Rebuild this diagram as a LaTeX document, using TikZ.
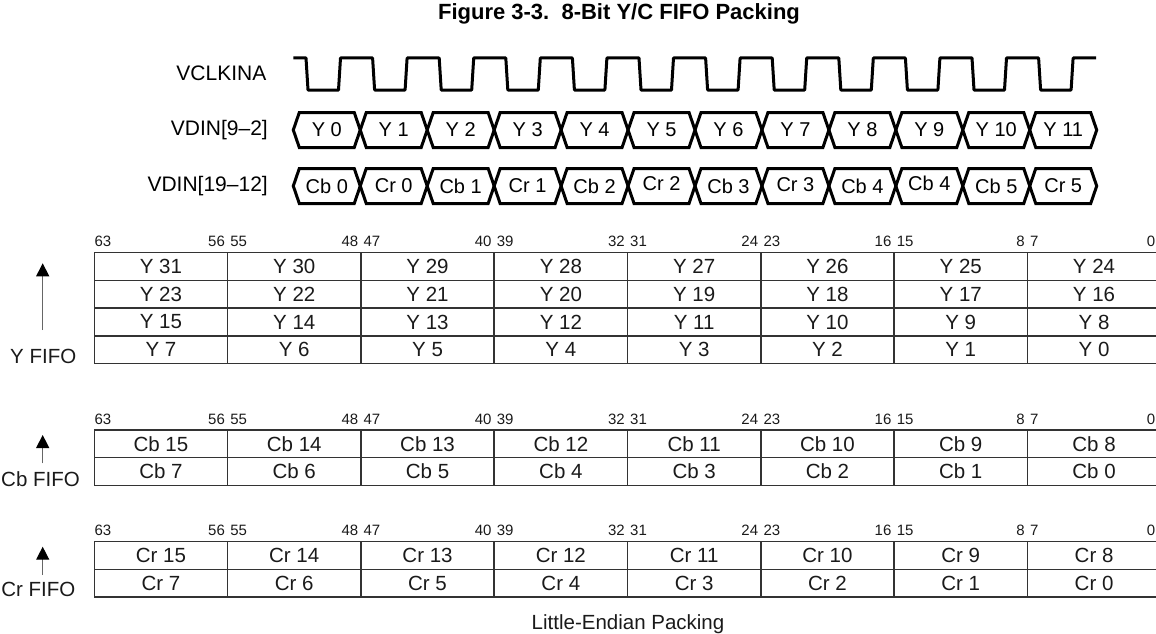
\documentclass[tikz,border=0pt]{standalone}
\usepackage{fontspec}
\setmainfont{Liberation Sans}
\usetikzlibrary{arrows.meta}
\definecolor{rule}{HTML}{333333}
\definecolor{ink}{HTML}{1A1A1A}
\def\busw{66.95}
\def\clkw{66.6}
\def\colw{133.3}
\def\roww{27.7}
\tikzset{
	wave/.style={line width=3pt, line join=round},
	buscell/.style={line width=3pt, line join=miter},
	bustext/.style={font=\fontsize{20}{24}\selectfont, inner sep=0pt},
	sig/.style={font=\fontsize{21}{25}\selectfont, anchor=east, inner sep=0pt},
	cell/.style={draw=rule, line width=1.5pt, minimum width=\colw pt, minimum height=\roww pt, inner sep=0pt, font=\fontsize{20.5}{24}\selectfont, text=ink},
	bitno/.style={font=\fontsize{15}{18}\selectfont, inner sep=0pt, text=ink},
	fifo/.style={font=\fontsize{20.5}{24}\selectfont, anchor=east, inner sep=0pt, text=ink},
	fifoarrow/.style={draw=black!60, line width=1.3pt, -{Triangle[width=13pt,length=13pt,color=black]}}
}

\begin{document}
\begin{tikzpicture}[x=1pt, y=-1pt]
				\useasboundingbox (0,0) rectangle (1156,634);
				
				\node[font=\bfseries\fontsize{22}{26}\selectfont, anchor=base] (title) at (619,19.5) {Figure 3-3.\ \ 8-Bit Y/C FIFO Packing};
				
				\node[sig] (clk) at (266.5,73.3) {VCLKINA};
				\node[sig] (vdlo) at (268,130) {VDIN[9\textendash 2]};
				\node[sig] (vdhi) at (268,186) {VDIN[19\textendash 12]};
				
				\draw[wave] (293.3,58) \foreach \k in {0,...,11} { -- ({306+\clkw*\k},58) -- ({308+\clkw*\k},90) -- ({338.5+\clkw*\k},90) -- ({340.5+\clkw*\k},58) } -- (1096,58);
				
				\foreach \lbl [count=\k from 0] in {Y 0,Y 1,Y 2,Y 3,Y 4,Y 5,Y 6,Y 7,Y 8,Y 9,Y 10,Y 11} {
					\pgfmathsetmacro\xa{293.3+\busw*\k}
					\pgfmathsetmacro\xb{\xa+\busw}
					\draw[buscell] (\xa,130) -- ({\xa+6},112.5) -- ({\xb-6},112.5) -- (\xb,130) -- ({\xb-6},147.5) -- ({\xa+6},147.5) -- cycle;
					\node[bustext] (yb\k) at ({\xa+\busw/2},130) {\lbl};
				}
				
				\foreach \lbl/\dy [count=\k from 0] in {Cb 0/0,Cr 0/0,Cb 1/0,Cr 1/0,Cb 2/0,Cr 2/-2,Cb 3/0,Cr 3/-1,Cb 4/0,Cb 4/-3,Cb 5/0,Cr 5/0} {
					\pgfmathsetmacro\xa{293.3+\busw*\k}
					\pgfmathsetmacro\xb{\xa+\busw}
					\draw[buscell] (\xa,186) -- ({\xa+6},168.5) -- ({\xb-6},168.5) -- (\xb,186) -- ({\xb-6},203.5) -- ({\xa+6},203.5) -- cycle;
					\node[bustext] (cb\k) at ({\xa+\busw/2},{186+\dy}) {\lbl};
				}
				
				\foreach \tab/\ty/\rows/\pre in {y/252.7/4/Y, cb/430/2/Cb, cr/541.7/2/Cr} {
					\foreach \rr in {1,...,\rows} {
						\foreach \cc in {0,...,7} {
							\pgfmathtruncatemacro\v{8*(\rows-\rr)+7-\cc}
							\node[cell] (\tab-\rr-\cc) at ({94.3+\colw*(\cc+0.5)},{\ty+\roww*(\rr-0.5)}) {\pre\ \v};
						}
					}
				}
				
				\foreach \tab/\hy in {y/241.7, cb/419, cr/530} {
					\node[bitno, anchor=west] (\tab-h63) at (94.3,\hy) {63};
					\foreach \i in {1,...,7} {
						\pgfmathtruncatemacro\hi{64-8*\i}
						\pgfmathtruncatemacro\lo{63-8*\i}
						\node[bitno, anchor=east] (\tab-h\hi) at ({94.3+\colw*\i-2.5},\hy) {\hi};
						\node[bitno, anchor=west] (\tab-h\lo) at ({94.3+\colw*\i+2.5},\hy) {\lo};
					}
					\node[bitno, anchor=east] (\tab-h0) at (1155.5,\hy) {0};
				}
				
				\node[fifo] (yfifo) at (76.5,356) {Y FIFO};
				\node[fifo] (cbfifo) at (80,479.5) {Cb FIFO};
				\node[fifo] (crfifo) at (75.5,589.5) {Cr FIFO};
				
				\coordinate (ytail) at (42.7,330);
				\coordinate (yhead) at (42.7,263.3);
				\coordinate (cbtail) at (42.7,463.3);
				\coordinate (cbhead) at (42.7,435);
				\coordinate (crtail) at (42.7,575);
				\coordinate (crhead) at (42.7,546.7);
				\draw[fifoarrow] (ytail) -- (yhead);
				\draw[fifoarrow] (cbtail) -- (cbhead);
				\draw[fifoarrow] (crtail) -- (crhead);
				
				\node[font=\fontsize{20.5}{24}\selectfont, anchor=base, text=ink] (foot) at (628,629) {Little-Endian Packing};
			\end{tikzpicture}
\end{document}
